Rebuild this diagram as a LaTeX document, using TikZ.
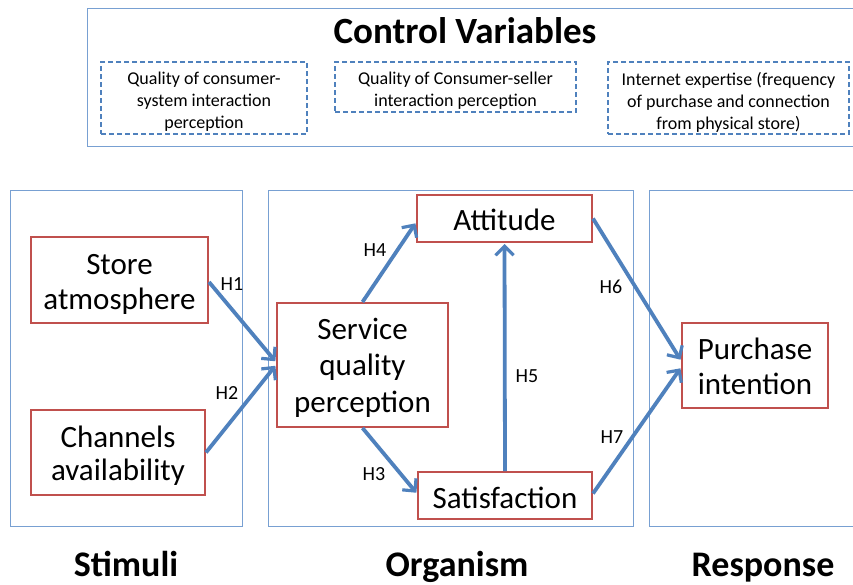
\documentclass[tikz,border=0pt]{standalone}
\usepackage{fontspec}
\setmainfont{Carlito}
\usetikzlibrary{arrows.meta}
\definecolor{officeblue}{RGB}{79,129,189}
\definecolor{panelblue}{RGB}{120,160,210}
\definecolor{officered}{RGB}{192,80,77}
\tikzset{
  panel/.style={draw=panelblue, line width=1.1pt, inner sep=0pt, anchor=north west},
  varbox/.style={draw=officered, line width=2pt, fill=white, inner sep=0pt},
  vartext/.style={align=center, inner sep=0pt, font=\fontsize{31}{35}\selectfont},
  ctrlbox/.style={draw=officeblue, line width=1.8pt, dash pattern=on 5pt off 3pt, inner sep=0pt},
  ctrltext/.style={align=center, inner sep=0pt, font=\fontsize{18}{22}\selectfont},
  hyp/.style={draw=officeblue, line width=3.8pt, -{Straight Barb[length=9pt,width=18pt,line width=3.2pt]}, shorten >=1pt},
  hlabel/.style={font=\fontsize{20}{24}\selectfont, inner sep=0pt, anchor=base},
  biglabel/.style={font=\fontsize{36}{40}\selectfont\bfseries, inner sep=0pt, anchor=base}
}
\begin{document}
\begin{tikzpicture}[x=1pt,y=-1pt]
\useasboundingbox (0,0) rectangle (853,584);
\clip (0,0) rectangle (853,584);
\fill[white] (0,0) rectangle (853,584);

% control variables
\node[panel, minimum width=780pt, minimum height=138pt] (ctrl) at (87,8) {};
\node[font=\fontsize{37}{40}\selectfont\bfseries, inner sep=0pt, anchor=base] (ctitle) at (465,43) {Control Variables};
\node[ctrlbox, minimum width=206pt, minimum height=72pt] (c1) at (204,98) {};
\node[ctrltext] (c1t) at ([yshift=-4pt]c1.center) {Quality of consumer-\\system interaction\\perception};
\node[ctrlbox, minimum width=241pt, minimum height=50pt] (c2) at (455.5,87) {};
\node[ctrltext] (c2t) at ([yshift=-4pt]c2.center) {Quality of Consumer-seller\\interaction perception};
\node[ctrlbox, minimum width=241pt, minimum height=72pt] (c3) at (728.5,98) {};
\node[ctrltext] (c3t) at ([yshift=-4pt]c3.center) {Internet expertise (frequency\\of purchase and connection\\from physical store)};

% panels
\node[panel, minimum width=232pt, minimum height=336pt] (pstim) at (10,190) {};
\node[panel, minimum width=365pt, minimum height=336pt] (porg) at (268,190) {};
\node[panel, minimum width=230pt, minimum height=336pt] (presp) at (649,190) {};

% variables
\node[varbox, minimum width=177pt, minimum height=86pt] (store) at (119.5,280) {};
\node[vartext] (storet) at ([yshift=-4pt]store.center) {Store\\atmosphere};
\node[varbox, minimum width=174pt, minimum height=85pt] (chan) at (118,452.5) {};
\node[vartext, font=\fontsize{31}{33}\selectfont] (chant) at ([yshift=-3.5pt]chan.center) {Channels\\availability};
\node[varbox, minimum width=171pt, minimum height=124pt] (serv) at (362.5,365) {};
\node[vartext, font=\fontsize{31}{36.5}\selectfont] (servt) at ([yshift=-2.5pt]serv.center) {Service\\quality\\perception};
\node[varbox, minimum width=175pt, minimum height=47pt] (att) at (504.5,218.5) {};
\node[vartext] (attt) at ([yshift=-1.5pt]att.center) {Attitude};
\node[varbox, minimum width=174pt, minimum height=47pt] (sat) at (505,495.5) {};
\node[vartext] (satt) at ([yshift=-2.5pt]sat.center) {Satisfaction};
\node[varbox, minimum width=146pt, minimum height=85pt] (pur) at (755,365.5) {};
\node[vartext] (purt) at ([yshift=-1pt]pur.center) {Purchase\\intention};

% hypotheses
\draw[hyp] ([yshift=-2pt]store.east) -- ([yshift=3pt]serv.west);
\draw[hyp] (chan.east) -- (serv.west);
\draw[hyp] (serv.north) -- ([yshift=-4pt]att.west);
\draw[hyp] (serv.south) -- ([yshift=2pt]sat.west);
\draw[hyp] (sat.north) -- (att.south);
\draw[hyp] (att.east) -- ([yshift=5pt]pur.west);
\draw[hyp] ([yshift=2pt]sat.east) -- ([yshift=-2pt]pur.west);

\node[hlabel] (h1) at (232,290) {H1};
\node[hlabel] (h2) at (227,399) {H2};
\node[hlabel] (h4) at (375,256) {H4};
\node[hlabel] (h3) at (374,480) {H3};
\node[hlabel] (h5) at (527,382) {H5};
\node[hlabel] (h6) at (611,293) {H6};
\node[hlabel] (h7) at (612,443) {H7};

% stage labels
\node[biglabel] (lstim) at (126,576) {Stimuli};
\node[biglabel] (lorg) at (457,576) {Organism};
\node[biglabel] (lresp) at (763,576) {Response};
\end{tikzpicture}
\end{document}
